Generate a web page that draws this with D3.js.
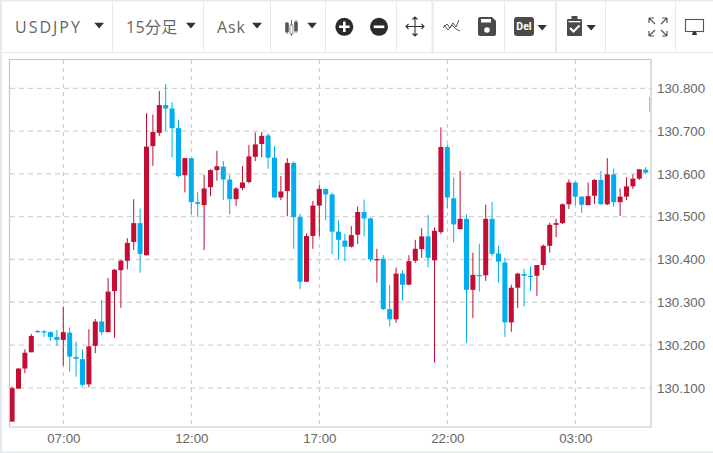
<!DOCTYPE html>
<html><head><meta charset="utf-8">
<script src="https://cdn.jsdelivr.net/npm/d3@7"></script>
<style>html,body{margin:0;padding:0;background:#fff;overflow:hidden}svg{display:block}</style>
</head><body><svg id="c" width="713" height="453"></svg>
<script>
const opens=[130.021,130.098,130.145,130.183,130.233,130.232,130.230,130.219,130.212,130.229,130.172,130.167,130.108,130.198,130.255,130.230,130.326,130.375,130.397,130.441,130.485,130.410,130.665,130.696,130.761,130.753,130.707,130.597,130.637,130.534,130.527,130.569,130.609,130.617,130.587,130.541,130.567,130.581,130.640,130.670,130.690,130.638,130.545,130.560,130.626,130.499,130.348,130.455,130.526,130.565,130.552,130.465,130.444,130.430,130.458,130.511,130.496,130.398,130.402,130.284,130.260,130.367,130.341,130.397,130.424,130.454,130.398,130.464,130.663,130.543,130.471,130.495,130.329,130.364,130.363,130.495,130.414,130.393,130.253,130.334,130.366,130.362,130.362,130.387,130.432,130.481,130.485,130.529,130.580,130.547,130.527,130.549,130.586,130.529,130.599,130.534,130.547,130.571,130.589,130.610,130.745];
const highs=[130.103,130.146,130.190,130.226,130.235,130.235,130.232,130.235,130.290,130.241,130.208,130.190,130.237,130.261,130.305,130.357,130.378,130.399,130.450,130.541,130.519,130.742,130.739,130.794,130.810,130.768,130.726,130.637,130.637,130.557,130.598,130.611,130.654,130.630,130.598,130.569,130.619,130.668,130.697,130.698,130.695,130.665,130.595,130.637,130.629,130.507,130.461,130.537,130.575,130.566,130.556,130.492,130.460,130.478,130.524,130.540,130.498,130.425,130.410,130.340,130.381,130.375,130.410,130.446,130.473,130.504,130.475,130.709,130.669,130.592,130.607,130.505,130.416,130.437,130.528,130.534,130.432,130.404,130.341,130.369,130.378,130.384,130.387,130.435,130.486,130.495,130.531,130.587,130.582,130.548,130.580,130.588,130.607,130.637,130.613,130.566,130.592,130.599,130.611,130.616,130.780];
const lows=[130.021,130.098,130.134,130.183,130.228,130.219,130.210,130.198,130.152,130.138,130.126,130.103,130.101,130.181,130.223,130.230,130.217,130.287,130.377,130.422,130.369,130.409,130.619,130.689,130.701,130.639,130.592,130.557,130.506,130.499,130.422,130.548,130.584,130.539,130.506,130.525,130.562,130.578,130.630,130.639,130.612,130.545,130.539,130.501,130.425,130.331,130.348,130.425,130.454,130.492,130.413,130.401,130.396,130.428,130.436,130.454,130.395,130.346,130.282,130.243,130.252,130.304,130.340,130.392,130.404,130.382,130.159,130.460,130.519,130.440,130.470,130.205,130.263,130.325,130.350,130.407,130.346,130.219,130.231,130.287,130.290,130.327,130.315,130.375,130.416,130.452,130.483,130.518,130.527,130.509,130.527,130.530,130.529,130.527,130.523,130.502,130.539,130.565,130.586,130.600,130.745];
const closes=[130.099,130.145,130.182,130.221,130.230,130.229,130.219,130.212,130.230,130.173,130.168,130.107,130.197,130.255,130.230,130.325,130.376,130.397,130.439,130.485,130.413,130.664,130.698,130.761,130.753,130.707,130.595,130.637,130.534,130.530,130.566,130.609,130.618,130.587,130.541,130.566,130.580,130.641,130.669,130.689,130.638,130.545,130.559,130.626,130.499,130.348,130.455,130.526,130.565,130.552,130.465,130.446,130.430,130.457,130.511,130.496,130.400,130.401,130.284,130.260,130.367,130.341,130.396,130.425,130.454,130.404,130.467,130.663,130.545,130.482,130.495,130.329,130.364,130.361,130.495,130.413,130.395,130.253,130.334,130.367,130.362,130.359,130.387,130.432,130.481,130.485,130.529,130.580,130.547,130.528,130.548,130.586,130.529,130.599,130.534,130.547,130.571,130.589,130.611,130.603,130.780];
const priceTicks=[130.1,130.2,130.3,130.4,130.5,130.6,130.7,130.8];
const timeTicks=[8,28,48,68,88];
const timeLabels=["07:00","12:00","17:00","22:00","03:00"];

const UP="#c20d35",DOWN="#00aeef",LINE="#e4eaf0",INK="#666",DARK="#2b2b2b";
const FONT='"Liberation Sans",Arial,sans-serif';
const P={l:10,t:60,r:651,b:427};
const svg=d3.select("#c");
const x=d3.scaleLinear().domain([0,99]).range([12.1,645.7]);
const y=d3.scaleLinear().domain([130.1,130.8]).range([387.8,88.4]);

// page chrome
svg.append("rect").attr("width",713).attr("height",453).attr("fill","#fff");
svg.append("rect").attr("x",0).attr("y",0).attr("width",713).attr("height",1.5).attr("fill",LINE);
svg.append("rect").attr("x",0).attr("y",0).attr("width",2).attr("height",453).attr("fill",LINE);
svg.append("rect").attr("x",0).attr("y",451.5).attr("width",713).attr("height",1.5).attr("fill",LINE);
svg.append("rect").attr("x",0).attr("y",52).attr("width",713).attr("height",1).attr("fill",LINE);
const seps=[[112.5,1],[203.5,1],[270.5,1],[325.5,1],[396.5,1],[432.5,2],[504.5,1],[556,2],[605.5,1],[675.5,1]];
svg.selectAll("rect.sep").data(seps).join("rect").attr("class","sep").attr("x",d=>d[0]-d[1]/2).attr("y",2).attr("width",d=>d[1]).attr("height",50).attr("fill",LINE);

// toolbar text
const tb=svg.append("g");
const label=(t,xp,ls)=>tb.append("text").attr("x",xp).attr("y",32.5).attr("fill",INK).attr("font-size",16).attr("letter-spacing",ls).attr("font-family",'"Open Sans","Noto Sans CJK JP",sans-serif').text(t);
label("USDJPY",15,2);label("15分足",126,0.3);label("Ask",217,0.9);
const caret=(x0,x1,y0,y1)=>tb.append("path").attr("d",`M${x0},${y0}H${x1}L${(x0+x1)/2},${y1}Z`).attr("fill","#333");
caret(94.3,104,22.7,28.5);caret(186,195.8,22.7,28.5);caret(252,262,22.7,28.5);caret(307.3,316.9,22.7,28.5);caret(537.5,546.9,25,30.5);caret(586.5,595.9,25,30.5);

// candle icon
[[287,22,34,23,32],[291.5,20,36,25,34],[296,20,33,22,31]].forEach((c,i)=>{
  tb.append("line").attr("x1",c[0]).attr("x2",c[0]).attr("y1",c[1]).attr("y2",c[2]).attr("stroke","#666");
  tb.append("rect").attr("x",c[0]-1.5).attr("y",c[3]).attr("width",3).attr("height",c[4]-c[3]).attr("fill",i==1?"#fff":"#555").attr("stroke","#666").attr("stroke-width",.7);
});
// plus / minus
tb.append("circle").attr("cx",344.3).attr("cy",26.8).attr("r",9).attr("fill",DARK);
tb.append("path").attr("d","M339,26.8H349.6M344.3,21.5V32.1").attr("stroke","#fff").attr("stroke-width",2.6);
tb.append("circle").attr("cx",379).attr("cy",26.8).attr("r",9).attr("fill",DARK);
tb.append("path").attr("d","M373.7,26.8H384.3").attr("stroke","#fff").attr("stroke-width",2.6);
// move
tb.append("path").attr("d","M415,17V36M406,26.5H424M412.5,19.5L415,17L417.5,19.5M412.5,33.5L415,36L417.5,33.5M408.5,24L406,26.5L408.5,29M421.5,24L424,26.5L421.5,29").attr("fill","none").attr("stroke","#333").attr("stroke-width",1.1);
// chart lines
tb.append("path").attr("d","M443,28L447,24L450,28L453,23L456,27L459,20M444,25L448,30L452,25L456,29L460,31").attr("fill","none").attr("stroke","#444").attr("stroke-width",.9);
// save
tb.append("path").attr("d","M478,19a2,2 0 0 1 2,-2H492L496,21V34a2,2 0 0 1 -2,2H480a2,2 0 0 1 -2,-2Z").attr("fill","#4a4a4a");
tb.append("rect").attr("x",481).attr("y",19).attr("width",10).attr("height",3.5).attr("fill","#fff");
tb.append("circle").attr("cx",487).attr("cy",30).attr("r",2.8).attr("fill","#fff");
// del
tb.append("rect").attr("x",514).attr("y",17).attr("width",20).attr("height",19).attr("rx",3).attr("fill","#4a4a4a");
tb.append("text").attr("x",524).attr("y",30).attr("text-anchor","middle").attr("fill","#fff").attr("font-size",10.5).attr("font-weight","bold").attr("font-family",'"Liberation Sans Narrow","Roboto",sans-serif').text("Del");
// clipboard
tb.append("rect").attr("x",567).attr("y",19).attr("width",15).attr("height",17).attr("rx",1).attr("fill","#4a4a4a");
tb.append("rect").attr("x",571.5).attr("y",16).attr("width",6).attr("height",4.5).attr("fill","#4a4a4a");
tb.append("rect").attr("x",568.5).attr("y",21).attr("width",12).attr("height",1.3).attr("fill","#fff");
tb.append("path").attr("d","M570,28L573.5,31.5L579.5,25.5").attr("fill","none").attr("stroke","#fff").attr("stroke-width",2);
// fullscreen
tb.append("path").attr("d","M649,18H654M649,18V23M649,18L655,24M667,18H662M667,18V23M667,18L661,24M649,36H654M649,36V31M649,36L655,30M667,36H662M667,36V31M667,36L661,30").attr("fill","none").attr("stroke","#555").attr("stroke-width",1.2);
// monitor
tb.append("rect").attr("x",685.5).attr("y",19.5).attr("width",18).attr("height",12).attr("fill","#fff").attr("stroke","#555").attr("stroke-width",1.1);
tb.append("path").attr("d","M692,35H697L696,31.5H693Z").attr("fill","#333");

// grid
const grid=svg.append("g").attr("fill","none");
grid.selectAll("line.h").data(priceTicks).join("line").attr("class","h")
  .attr("x1",P.l).attr("x2",P.r).attr("y1",d=>y(d)).attr("y2",d=>y(d))
  .attr("stroke","#d4d4d4").attr("stroke-width",1.3).attr("stroke-dasharray","5,4");
grid.selectAll("line.v").data(timeTicks).join("line").attr("class","v")
  .attr("x1",d=>x(d)).attr("x2",d=>x(d)).attr("y1",P.t).attr("y2",P.b)
  .attr("stroke","#c4c4c4").attr("stroke-width",1).attr("stroke-dasharray","4,4");

// frame
svg.append("path").attr("d",`M${P.l-.5},${P.b}V${P.t-.5}H${P.r}V${P.b}H${P.l-.5}`).attr("fill","none").attr("stroke","#c6c6c6").attr("stroke-width",1.2);

// candles
svg.append("clipPath").attr("id","clip").append("rect").attr("x",P.l).attr("y",P.t).attr("width",P.r-P.l-1).attr("height",P.b-P.t);
const g=svg.append("g").attr("clip-path","url(#clip)");
const idx=d3.range(opens.length);
const col=i=>closes[i]>=opens[i]?UP:DOWN;
g.selectAll("line.w").data(idx).join("line").attr("class","w")
  .attr("x1",x).attr("x2",x).attr("y1",i=>y(highs[i])).attr("y2",i=>y(lows[i]))
  .attr("stroke",col).attr("stroke-width",1);
g.selectAll("rect.b").data(idx).join("rect").attr("class","b")
  .attr("x",i=>x(i)-2.5).attr("width",5)
  .attr("y",i=>y(Math.max(opens[i],closes[i])))
  .attr("height",i=>Math.max(1,Math.abs(y(opens[i])-y(closes[i]))))
  .attr("fill",col);

// axes
const ay=svg.append("g").attr("transform",`translate(${P.r},0)`)
  .call(d3.axisRight(y).tickValues(priceTicks).tickFormat(d3.format(".3f")).tickSize(0).tickPadding(6));
const ax=svg.append("g").attr("transform",`translate(0,${P.b})`)
  .call(d3.axisBottom(x).tickValues(timeTicks).tickFormat((d,i)=>timeLabels[i]).tickSize(0).tickPadding(7));
[ay,ax].forEach(a=>{a.select(".domain").remove();a.selectAll("text").attr("fill",INK).attr("font-size",13.3).attr("font-family",FONT);});
ay.attr("font-family",null);ax.attr("font-family",null);
</script></body></html>
